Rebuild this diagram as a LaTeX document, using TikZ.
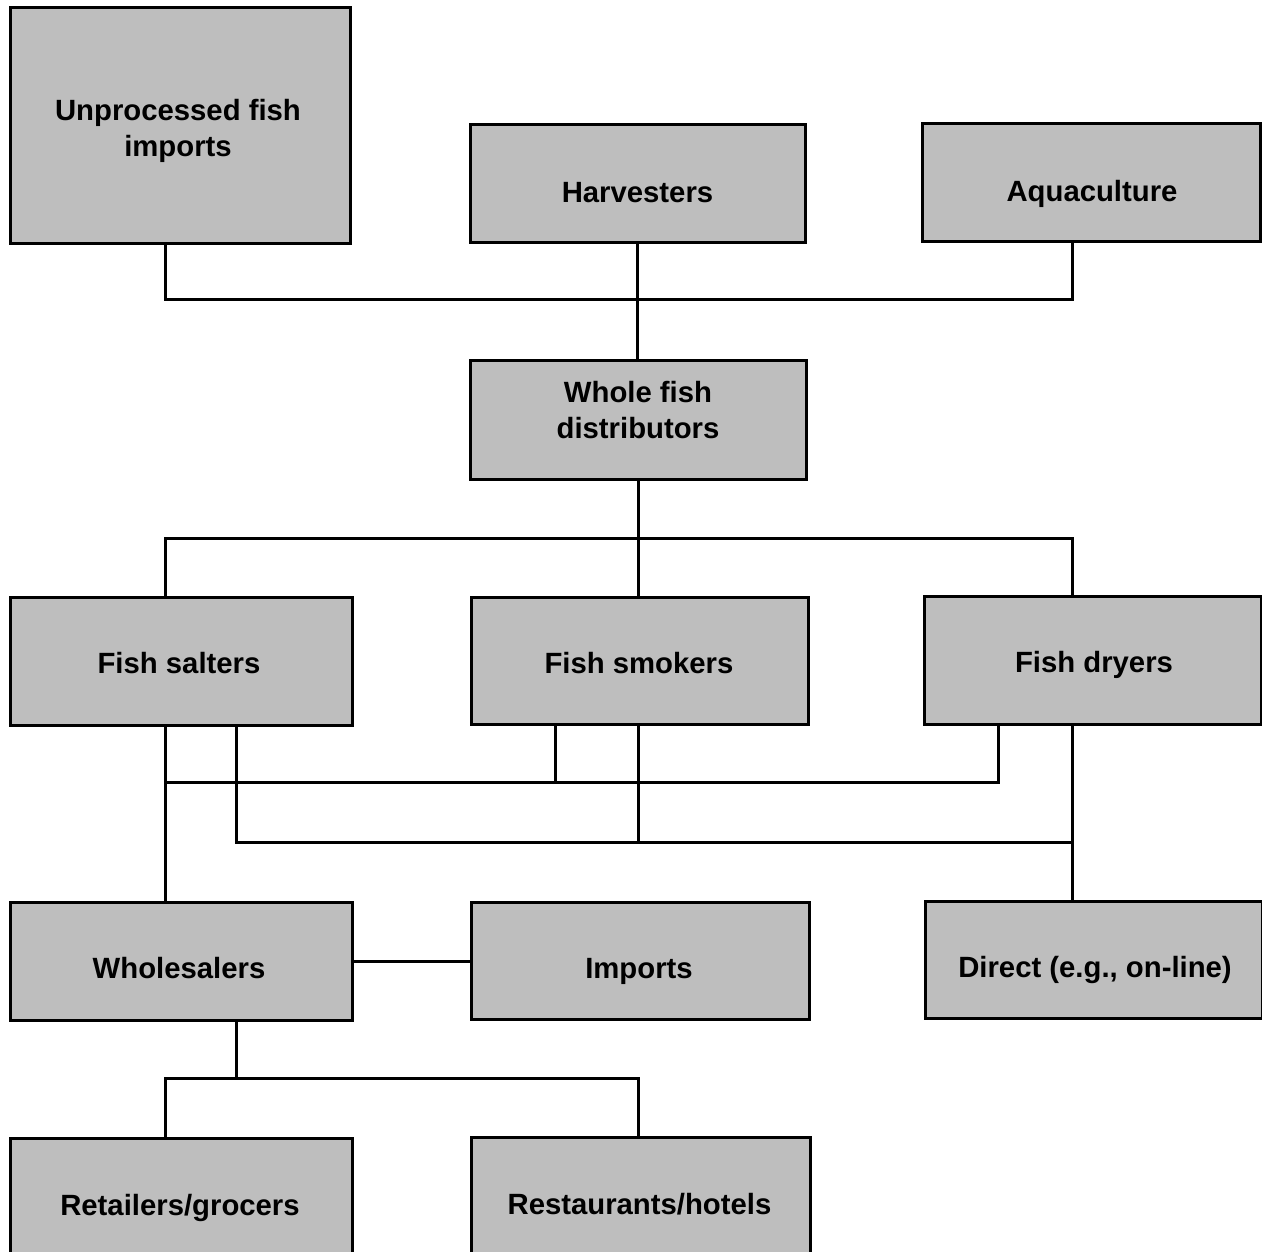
\documentclass[tikz,border=0pt]{standalone}
\usepackage{fontspec}
\setmainfont{Liberation Sans}
\definecolor{boxgray}{RGB}{190,190,190}
\begin{document}
\begin{tikzpicture}[x=1pt,y=-1pt,
  box/.style={draw=black,line width=3pt,fill=boxgray,inner sep=0pt},
  lbl/.style={inner sep=0pt,align=center,font=\fontsize{29.3}{36}\selectfont\bfseries},
  conn/.style={draw=black,line width=3pt}]
\useasboundingbox (0,0) rectangle (1262,1252);
\clip (0,0) rectangle (1262,1252);
% boxes
\node[box,minimum width=340pt,minimum height=236pt] (U) at (180,126) {};
\node[box,minimum width=335pt,minimum height=118pt] (H) at (637.5,184) {};
\node[box,minimum width=338pt,minimum height=118pt] (A) at (1091,183) {};
\node[box,minimum width=336pt,minimum height=119pt] (W) at (638,419.5) {};
\node[box,minimum width=342pt,minimum height=128pt] (FS) at (181,661) {};
\node[box,minimum width=337pt,minimum height=127pt] (FK) at (639.5,660.5) {};
\node[box,minimum width=337pt,minimum height=128pt] (FD) at (1093,660) {};
\node[box,minimum width=342pt,minimum height=118pt] (WH) at (181,961) {};
\node[box,minimum width=338pt,minimum height=117pt] (IM) at (640,960.5) {};
\node[box,minimum width=337pt,minimum height=117pt] (DI) at (1093.5,959.5) {};
\node[box,minimum width=342pt,minimum height=134pt] (RG) at (181,1205) {};
\node[box,minimum width=339pt,minimum height=134pt] (RH) at (640.5,1204) {};
% labels
\node[lbl] (Ut) at (178,131) {Unprocessed fish\\imports};
\node[lbl] (Ht) at (637.5,193) {Harvesters};
\node[lbl] (At) at (1092,194) {Aquaculture};
\node[lbl] (Wt) at (638,410.5) {Whole fish\\distributors};
\node[lbl] (FSt) at (179,663) {Fish salters};
\node[lbl] (FKt) at (639,663.5) {Fish smokers};
\node[lbl] (FDt) at (1094,665) {Fish dryers};
\node[lbl] (WHt) at (179,968) {Wholesalers};
\node[lbl] (IMt) at (639,971) {Imports};
\node[lbl] (DIt) at (1095,970) {Direct (e.g., on-line)};
\node[lbl] (RGt) at (180,1208) {Retailers/grocers};
\node[lbl] (RHt) at (639.5,1204) {Restaurants/hotels};
% bus coordinates
\coordinate (b1L) at (165,300);
\coordinate (b1R) at (1072,300);
\coordinate (b2L) at (165,538);
\coordinate (b2R) at (1072,538);
\coordinate (b3L) at (165,782);
\coordinate (b3M) at (555,782);
\coordinate (b3R) at (998,782);
\coordinate (b4L) at (236,842);
\coordinate (b4M) at (638,842);
\coordinate (b4R) at (1072,842);
\coordinate (b5T) at (236,1078);
\coordinate (b5L) at (165,1078);
\coordinate (b5R) at (638,1078);
% connectors
\draw[conn] (b1L |- U.south) -- (b1L) -- (b1R) -- (b1R |- A.south);
\draw[conn] (H.south) -- (H.south |- W.north);
\draw[conn] (W.south) -- (W.south |- FK.north);
\draw[conn] (b2L |- FS.north) -- (b2L) -- (b2R) -- (b2R |- FD.north);
\draw[conn] (b3L |- FS.south) -- (b3L |- WH.north);
\draw[conn] (b3L) -- (b3R) -- (b3R |- FD.south);
\draw[conn] (b3M |- FK.south) -- (b3M);
\draw[conn] (b4L |- FS.south) -- (b4L) -- (b4R);
\draw[conn] (b4M |- FK.south) -- (b4M);
\draw[conn] (b4R |- FD.south) -- (b4R |- DI.north);
\draw[conn] (WH.east) -- (WH.east -| IM.west);
\draw[conn] (b5T |- WH.south) -- (b5T);
\draw[conn] (b5L |- RG.north) -- (b5L) -- (b5R) -- (b5R |- RH.north);
\end{tikzpicture}
\end{document}
